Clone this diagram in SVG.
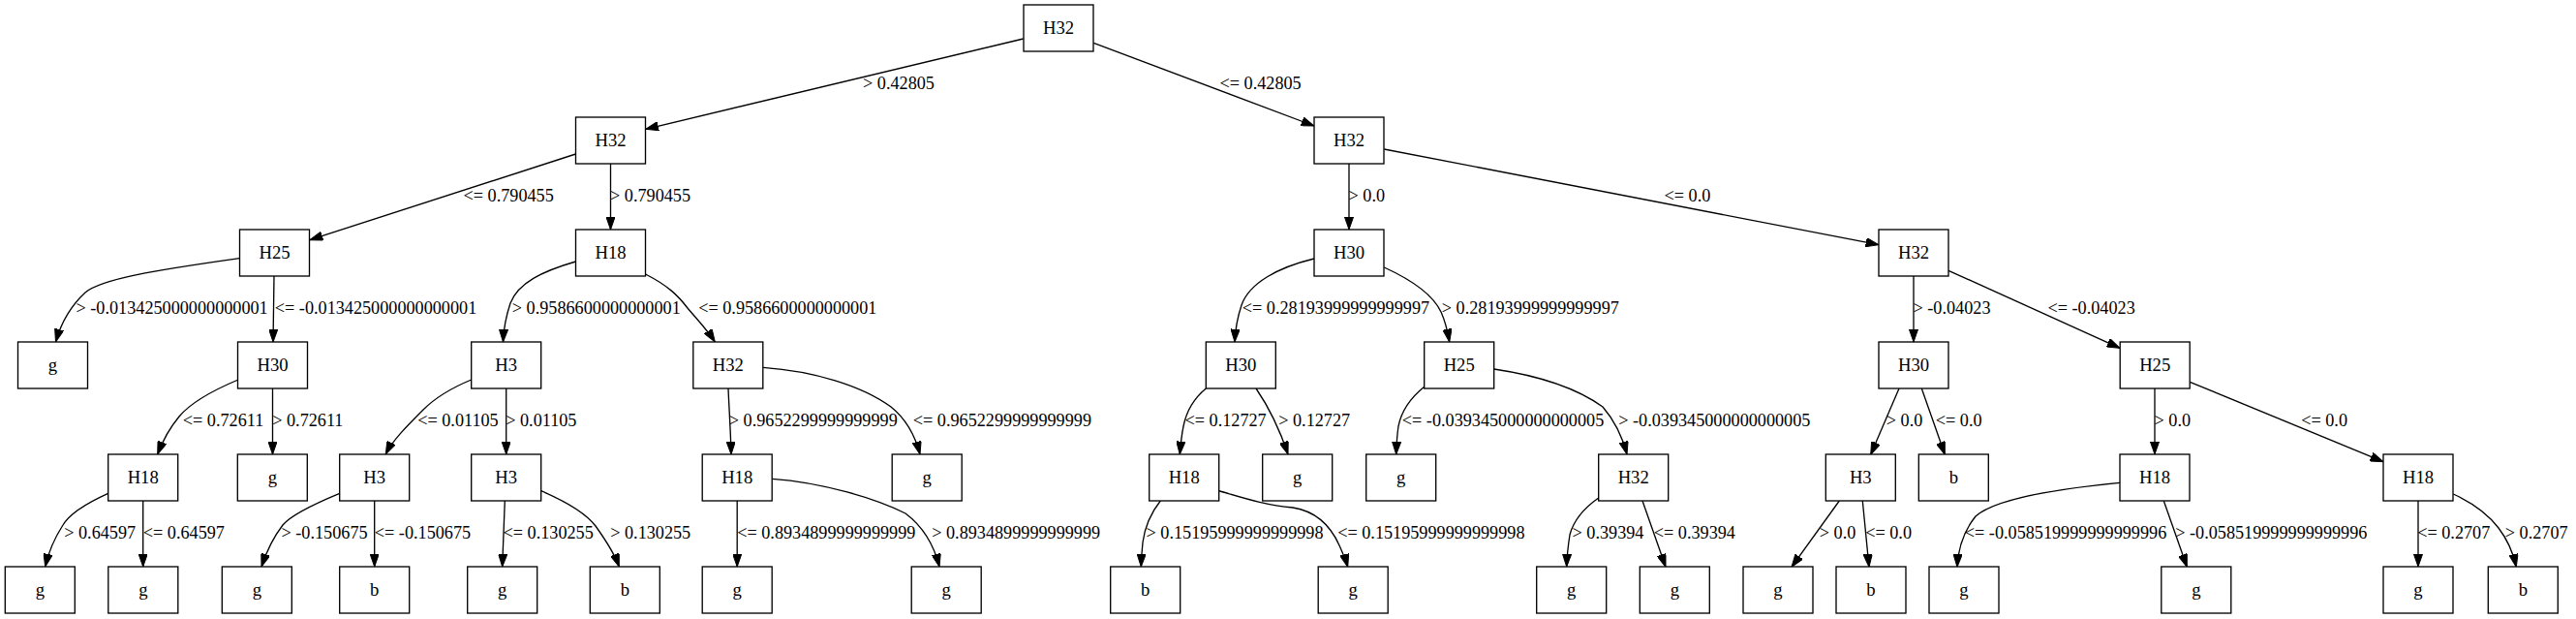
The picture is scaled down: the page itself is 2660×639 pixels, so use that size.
<svg xmlns="http://www.w3.org/2000/svg" width="2660" height="639" viewBox="0 0 2660 639">
<style>
text{font-family:"Liberation Serif","Times New Roman",serif;font-size:18.2px;fill:#000}
.node rect{fill:#fff;stroke:#000;stroke-width:1.33}
.node text{text-anchor:middle;font-size:18.67px}
.edge path{fill:none;stroke:#000;stroke-width:1.33;marker-end:url(#arr)}
</style>
<defs>
<marker id="arr" markerUnits="userSpaceOnUse" viewBox="0 0 13.33 9.33" markerWidth="13.33" markerHeight="9.33" refX="13.33" refY="4.67" orient="auto">
<path d="M0,0 L13.33,4.67 L0,9.33 z" fill="#000" stroke="#000" stroke-width="1"/>
</marker>
</defs>
<rect width="2660" height="639" fill="#fff"/>
<g id="edges" class="edge">
<path d="M1056.7,40 L666.7,133.3"/><text x="891" y="92">&gt; 0.42805</text>
<path d="M1129.3,44.3 L1357,130"/><text x="1259.5" y="92">&lt;= 0.42805</text>
<path d="M594.5,159 L320,247.7"/><text x="478.5" y="208">&lt;= 0.790455</text>
<path d="M630.5,169 L630.5,237"/><text x="630" y="208">&gt; 0.790455</text>
<path d="M1393,169 L1393,237"/><text x="1392.5" y="208">&gt; 0.0</text>
<path d="M1429.3,154 L1940,252.7"/><text x="1718.5" y="208">&lt;= 0.0</text>
<path d="M247.3,266.7 C160,279 105,288 88,302 C75,314 64,330 57.5,353"/><text x="78.5" y="324">&gt; -0.013425000000000001</text>
<path d="M283,285 L282,353"/><text x="283.8" y="324">&lt;= -0.013425000000000001</text>
<path d="M594.5,270 C560,280 535,292 527,313 C522,328 520,340 519.5,353"/><text x="528.8" y="324">&gt; 0.9586600000000001</text>
<path d="M666.5,283 C690,295 700,305 710,318 C720,330 730,340 738.3,353"/><text x="721.2" y="324">&lt;= 0.9586600000000001</text>
<path d="M1357,267 C1320,276 1290,292 1282,315 C1277,330 1275.5,342 1275,353"/><text x="1282.8" y="324">&lt;= 0.28193999999999997</text>
<path d="M1429.3,276 C1460,290 1480,305 1488,322 C1493,333 1495,343 1496.7,353"/><text x="1488.8" y="324">&gt; 0.28193999999999997</text>
<path d="M1976,285 L1976,353"/><text x="1975.5" y="324">&gt; -0.04023</text>
<path d="M2012,279.3 L2189,359.3"/><text x="2114.5" y="324">&lt;= -0.04023</text>
<path d="M246,392 C215,405 195,418 185,430 C175,442 168,455 162.7,469"/><text x="188.8" y="440">&lt;= 0.72611</text>
<path d="M281.5,401 L281.5,469"/><text x="281.2" y="440">&gt; 0.72611</text>
<path d="M486.7,392 C465,401 448,412 437,423 C420,440 405,455 398.3,469"/><text x="431.2" y="440">&lt;= 0.01105</text>
<path d="M522.7,401 L522.7,469"/><text x="522.2" y="440">&gt; 0.01105</text>
<path d="M752,401 C753,425 754.5,445 755,469"/><text x="752.8" y="440">&gt; 0.9652299999999999</text>
<path d="M788,379.3 C840,383 890,398 920,420 C935,432 945,450 950,469"/><text x="942.8" y="440">&lt;= 0.9652299999999999</text>
<path d="M1245.3,401 C1232,412 1225,425 1222,440 C1220,450 1219,460 1218.3,469"/><text x="1223.5" y="440">&lt;= 0.12727</text>
<path d="M1297,401 C1310,420 1322,445 1330,469"/><text x="1320.2" y="440">&gt; 0.12727</text>
<path d="M1470.7,399.3 C1455,412 1447,425 1444,440 C1442.5,450 1442,460 1441.7,469"/><text x="1447.8" y="440">&lt;= -0.039345000000000005</text>
<path d="M1542.7,381 C1590,388 1630,402 1655,420 C1668,435 1675,450 1680,469"/><text x="1671.2" y="440">&gt; -0.039345000000000005</text>
<path d="M1961,401 L1931.7,469.3"/><text x="1947.8" y="440">&gt; 0.0</text>
<path d="M1984.3,401 L2008.3,469.3"/><text x="1998.8" y="440">&lt;= 0.0</text>
<path d="M2225,401 L2225,469"/><text x="2224.5" y="440">&gt; 0.0</text>
<path d="M2261.3,394.3 L2461,476.7"/><text x="2376.2" y="440">&lt;= 0.0</text>
<path d="M111.7,509.3 C88,520 72,530 65,542 C56,556 50,570 46.7,585"/><text x="66.2" y="556">&gt; 0.64597</text>
<path d="M147.7,517 L147.7,585"/><text x="147.8" y="556">&lt;= 0.64597</text>
<path d="M350.7,509.3 C320,522 300,532 292,542 C282,555 275,570 270,585"/><text x="290.5" y="556">&gt; -0.150675</text>
<path d="M386.7,517 L386.7,585"/><text x="386.8" y="556">&lt;= -0.150675</text>
<path d="M521.3,517 L518.7,585"/><text x="519.5" y="556">&lt;= 0.130255</text>
<path d="M558.7,506.7 C585,518 605,530 615,543 C625,557 634,570 639.3,585"/><text x="630.2" y="556">&gt; 0.130255</text>
<path d="M761.2,517 L761.2,585"/><text x="761.2" y="556">&lt;= 0.8934899999999999</text>
<path d="M797.3,494.3 C850,498 905,515 935,530 C955,545 965,565 970,585"/><text x="962.2" y="556">&gt; 0.8934899999999999</text>
<path d="M1198.3,517 C1188,530 1182,545 1180,560 C1179,570 1178.5,578 1178.3,585"/><text x="1183.5" y="556">&gt; 0.15195999999999998</text>
<path d="M1258.7,506.7 C1290,516 1310,522 1335,524 C1360,528 1375,545 1383,563 C1387,572 1390,579 1391.7,585.3"/><text x="1381.2" y="556">&lt;= 0.15195999999999998</text>
<path d="M1650.7,514 C1635,525 1625,537 1621,552 C1619,565 1618,575 1617.7,585"/><text x="1623.5" y="556">&gt; 0.39394</text>
<path d="M1696,517 L1720,585.3"/><text x="1707.8" y="556">&lt;= 0.39394</text>
<path d="M1899.3,517 L1850,585.3"/><text x="1878.8" y="556">&gt; 0.0</text>
<path d="M1923.3,517 L1930,585.3"/><text x="1926.2" y="556">&lt;= 0.0</text>
<path d="M2189,498.3 C2120,505 2060,515 2040,533 C2028,548 2022,565 2021,585.3"/><text x="2028.8" y="556">&lt;= -0.058519999999999996</text>
<path d="M2234.3,517 L2258.3,585.3"/><text x="2246.2" y="556">&gt; -0.058519999999999996</text>
<path d="M2497,517 L2497,585"/><text x="2496.2" y="556">&lt;= 0.2707</text>
<path d="M2533.3,510 C2555,520 2570,532 2580,545 C2590,558 2595,570 2598.3,585.3"/><text x="2586.8" y="556">&gt; 0.2707</text>
</g>
<g id="n0" class="node"><rect x="1057" y="5" width="72" height="48"/><text x="1093" y="34.5">H32</text></g>
<g id="n1" class="node"><rect x="594.5" y="121" width="72" height="48"/><text x="630.5" y="150.5">H32</text></g>
<g id="n2" class="node"><rect x="1357" y="121" width="72" height="48"/><text x="1393" y="150.5">H32</text></g>
<g id="n3" class="node"><rect x="247.5" y="237" width="72" height="48"/><text x="283.5" y="266.5">H25</text></g>
<g id="n4" class="node"><rect x="594.5" y="237" width="72" height="48"/><text x="630.5" y="266.5">H18</text></g>
<g id="n5" class="node"><rect x="1357" y="237" width="72" height="48"/><text x="1393" y="266.5">H30</text></g>
<g id="n6" class="node"><rect x="1940" y="237" width="72" height="48"/><text x="1976" y="266.5">H32</text></g>
<g id="n7" class="node"><rect x="18.5" y="353" width="72" height="48"/><text x="54.5" y="382.5">g</text></g>
<g id="n8" class="node"><rect x="245.5" y="353" width="72" height="48"/><text x="281.5" y="382.5">H30</text></g>
<g id="n9" class="node"><rect x="486.7" y="353" width="72" height="48"/><text x="522.7" y="382.5">H3</text></g>
<g id="n10" class="node"><rect x="715.8" y="353" width="72" height="48"/><text x="751.8" y="382.5">H32</text></g>
<g id="n11" class="node"><rect x="1245.3" y="353" width="72" height="48"/><text x="1281.3" y="382.5">H30</text></g>
<g id="n12" class="node"><rect x="1470.7" y="353" width="72" height="48"/><text x="1506.7" y="382.5">H25</text></g>
<g id="n13" class="node"><rect x="1940" y="353" width="72" height="48"/><text x="1976" y="382.5">H30</text></g>
<g id="n14" class="node"><rect x="2189.2" y="353" width="72" height="48"/><text x="2225.2" y="382.5">H25</text></g>
<g id="n15" class="node"><rect x="111.7" y="469" width="72" height="48"/><text x="147.7" y="498.5">H18</text></g>
<g id="n16" class="node"><rect x="245.3" y="469" width="72" height="48"/><text x="281.3" y="498.5">g</text></g>
<g id="n17" class="node"><rect x="350.7" y="469" width="72" height="48"/><text x="386.7" y="498.5">H3</text></g>
<g id="n18" class="node"><rect x="486.7" y="469" width="72" height="48"/><text x="522.7" y="498.5">H3</text></g>
<g id="n19" class="node"><rect x="725.2" y="469" width="72" height="48"/><text x="761.2" y="498.5">H18</text></g>
<g id="n20" class="node"><rect x="921.2" y="469" width="72" height="48"/><text x="957.2" y="498.5">g</text></g>
<g id="n21" class="node"><rect x="1186.7" y="469" width="72" height="48"/><text x="1222.7" y="498.5">H18</text></g>
<g id="n22" class="node"><rect x="1303.7" y="469" width="72" height="48"/><text x="1339.7" y="498.5">g</text></g>
<g id="n23" class="node"><rect x="1410.7" y="469" width="72" height="48"/><text x="1446.7" y="498.5">g</text></g>
<g id="n24" class="node"><rect x="1650.7" y="469" width="72" height="48"/><text x="1686.7" y="498.5">H32</text></g>
<g id="n25" class="node"><rect x="1885.3" y="469" width="72" height="48"/><text x="1921.3" y="498.5">H3</text></g>
<g id="n26" class="node"><rect x="1981.3" y="469" width="72" height="48"/><text x="2017.3" y="498.5">b</text></g>
<g id="n27" class="node"><rect x="2189" y="469" width="72" height="48"/><text x="2225" y="498.5">H18</text></g>
<g id="n28" class="node"><rect x="2461" y="469" width="72" height="48"/><text x="2497" y="498.5">H18</text></g>
<g id="n29" class="node"><rect x="5.3" y="585" width="72" height="48"/><text x="41.3" y="614.5">g</text></g>
<g id="n30" class="node"><rect x="111.8" y="585" width="72" height="48"/><text x="147.8" y="614.5">g</text></g>
<g id="n31" class="node"><rect x="229.3" y="585" width="72" height="48"/><text x="265.3" y="614.5">g</text></g>
<g id="n32" class="node"><rect x="350.7" y="585" width="72" height="48"/><text x="386.7" y="614.5">b</text></g>
<g id="n33" class="node"><rect x="482.7" y="585" width="72" height="48"/><text x="518.7" y="614.5">g</text></g>
<g id="n34" class="node"><rect x="609.3" y="585" width="72" height="48"/><text x="645.3" y="614.5">b</text></g>
<g id="n35" class="node"><rect x="725.2" y="585" width="72" height="48"/><text x="761.2" y="614.5">g</text></g>
<g id="n36" class="node"><rect x="941.2" y="585" width="72" height="48"/><text x="977.2" y="614.5">g</text></g>
<g id="n37" class="node"><rect x="1146.7" y="585" width="72" height="48"/><text x="1182.7" y="614.5">b</text></g>
<g id="n38" class="node"><rect x="1361.2" y="585" width="72" height="48"/><text x="1397.2" y="614.5">g</text></g>
<g id="n39" class="node"><rect x="1586.7" y="585" width="72" height="48"/><text x="1622.7" y="614.5">g</text></g>
<g id="n40" class="node"><rect x="1693.3" y="585" width="72" height="48"/><text x="1729.3" y="614.5">g</text></g>
<g id="n41" class="node"><rect x="1800" y="585" width="72" height="48"/><text x="1836" y="614.5">g</text></g>
<g id="n42" class="node"><rect x="1896" y="585" width="72" height="48"/><text x="1932" y="614.5">b</text></g>
<g id="n43" class="node"><rect x="1992" y="585" width="72" height="48"/><text x="2028" y="614.5">g</text></g>
<g id="n44" class="node"><rect x="2231.8" y="585" width="72" height="48"/><text x="2267.8" y="614.5">g</text></g>
<g id="n45" class="node"><rect x="2461" y="585" width="72" height="48"/><text x="2497" y="614.5">g</text></g>
<g id="n46" class="node"><rect x="2569.3" y="585" width="72" height="48"/><text x="2605.3" y="614.5">b</text></g>
</svg>
